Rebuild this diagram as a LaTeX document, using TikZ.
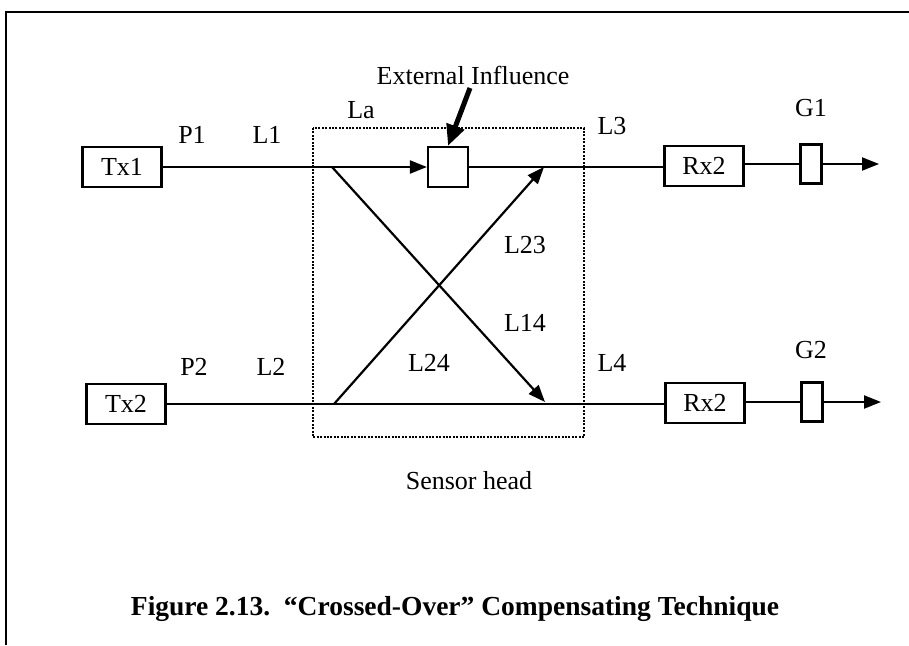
\documentclass[tikz,border=0pt]{standalone}
\usepackage{fontspec}
\setmainfont{Liberation Serif}
\usetikzlibrary{arrows.meta}
\tikzset{
  lbl/.style={inner sep=0pt, font=\fontsize{26pt}{30pt}\selectfont},
  blk/.style={draw, line width=2.2pt, minimum width=79pt, minimum height=40pt, inner sep=0pt,
              font=\fontsize{26pt}{30pt}\selectfont},
  gate/.style={draw, line width=2.2pt, minimum width=21pt, minimum height=39pt, inner sep=0pt},
  fibre/.style={line width=2.2pt},
  sig/.style={line width=2.2pt, -{Triangle[length=17pt,width=13pt]}},
  probe/.style={draw, line width=2pt, dash pattern=on 2pt off 1.4pt},
}
\begin{document}
\begin{tikzpicture}[x=1pt,y=-1pt]
\useasboundingbox (0,0) rectangle (909,645);

% page frame (top and left edges)
\draw[line width=2.6pt] (6,645) -- (6,12) -- (909,12);

% sensor head outline
\draw[probe] (313,128) rectangle (584,437);

% transmitters, sensing element, receivers and gates
\node[blk] (tx1) at (122,167) {Tx1};
\node[blk] (tx2) at (126,404) {Tx2};
\node[draw, line width=2.2pt, minimum size=40pt, inner sep=0pt] (se) at (448,167) {};
\node[blk] (rx1) at (704,166) {Rx2};
\node[blk] (rx2) at (705,403) {Rx2};
\node[gate] (g1) at (811,164) {};
\node[gate] (g2) at (812,402) {};

% free ends of the connectors
\coordinate (out1) at (879,164);
\coordinate (out2) at (881,402);
\coordinate (s14) at (332,167);
\coordinate (e14) at (545,402);
\coordinate (s23) at (334,404);
\coordinate (e23) at (544,167);
\coordinate (ext) at (470,88);

% channel 1
\draw[sig] (tx1.east) -- (se.west);
\draw[fibre] (se.east) -- (se.east -| rx1.west);
\draw[fibre] (rx1.east |- g1.west) -- (g1.west);
\draw[sig] (g1.east) -- (out1);

% channel 2
\draw[fibre] (tx2.east) -- (tx2.east -| rx2.west);
\draw[fibre] (rx2.east |- g2.west) -- (g2.west);
\draw[sig] (g2.east) -- (out2);

% crossed-over paths
\draw[sig] (s14) -- (e14);
\draw[sig] (s23) -- (e23);

% external influence on the sensing element
\draw[line width=5pt, -{Triangle[length=21pt,width=18pt]}] (ext) -- (se.north);

% labels
\node[lbl] (tp1) at (192,135) {P1};
\node[lbl] (tl1) at (267,135) {L1};
\node[lbl] (tla) at (361,110) {La};
\node[lbl] (tei) at (473,75) {External Influence};
\node[lbl] (tl3) at (612,126) {L3};
\node[lbl] (tg1) at (811,108) {G1};
\node[lbl] (tl23) at (525,245) {L23};
\node[lbl] (tl14) at (525,323) {L14};
\node[lbl] (tl24) at (429,363) {L24};
\node[lbl] (tp2) at (194,367) {P2};
\node[lbl] (tl2) at (271,367) {L2};
\node[lbl] (tl4) at (612,363) {L4};
\node[lbl] (tg2) at (811,350) {G2};
\node[lbl] (tsh) at (469,481) {Sensor head};
\node[inner sep=0pt, font=\fontsize{27.5pt}{32pt}\selectfont\bfseries] (cap) at (455,609)
  {Figure 2.13.\ \ “Crossed-Over” Compensating Technique};
\end{tikzpicture}
\end{document}
